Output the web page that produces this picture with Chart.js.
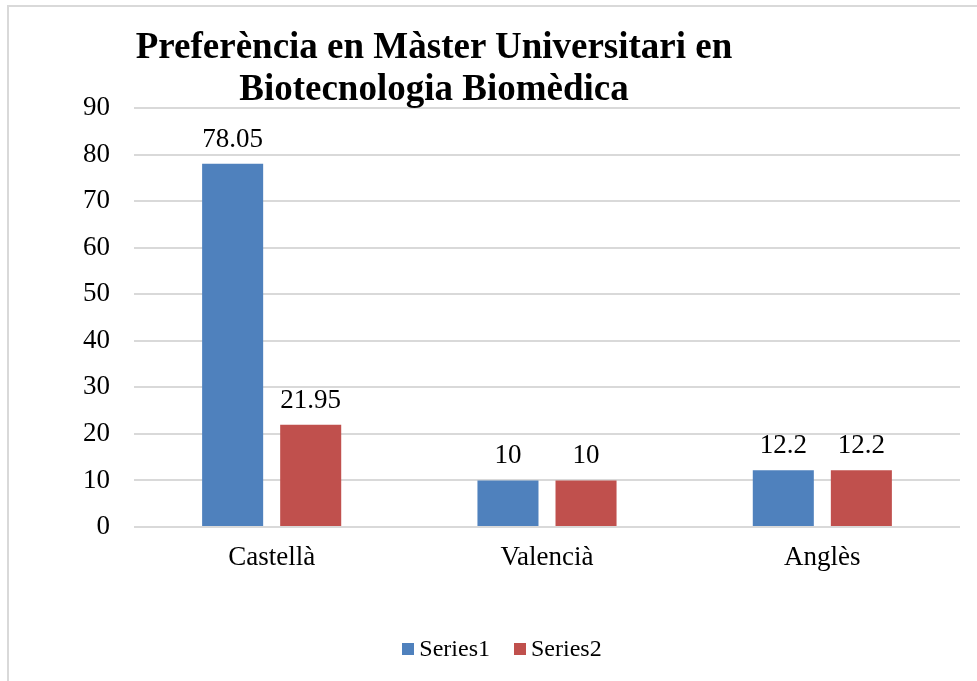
<!DOCTYPE html>
<html>
<head>
<meta charset="utf-8">
<script src="https://cdn.jsdelivr.net/npm/chart.js@4"></script>
<style>
  html, body { margin: 0; padding: 0; background: #fff; overflow: hidden; }
  #wrap { position: relative; width: 977px; height: 681px; }
  #frame { position: absolute; left: 7px; top: 5px; width: 1200px; height: 1200px;
           border-left: 2px solid #D9D9D9; border-top: 2px solid #D9D9D9; }
  #title { position: absolute; left: 0; top: 25px; width: 868px; text-align: center;
           font: bold 37px "Liberation Serif", "Times New Roman", serif; line-height: 42px; color: #000; }
  #legend { position: absolute; left: 0; top: 633px; width: 1004px; text-align: center;
            font: 24px "Liberation Serif", "Times New Roman", serif; line-height: 30px; color: #000; }
  #legend .item { display: inline-block; margin: 0 12px; }
  #legend .box { display: inline-block; width: 12px; height: 12px; margin-right: 5px; vertical-align: 1px; }
  canvas { position: absolute; left: 0; top: 0; }
</style>
</head>
<body>
<div id="wrap">
  <div id="frame"></div>
  <canvas id="c" width="977" height="681"></canvas>
  <div id="title">Preferència en Màster Universitari en<br>Biotecnologia Biomèdica</div>
  <div id="legend"></div>
</div>
<script>
const categories = ["Castellà", "Valencià", "Anglès"];
const series1 = [78.05, 10, 12.2];
const series2 = [21.95, 10, 12.2];
const seriesNames = ["Series1", "Series2"];
const seriesColors = ["#4F81BD", "#C0504D"];
const yTicks = { min: 0, max: 90, step: 10 };

const FONT = '"Liberation Serif", "Times New Roman", serif';

const valueLabels = {
  id: 'valueLabels',
  afterDatasetsDraw(chart) {
    const ctx = chart.ctx;
    ctx.save();
    ctx.font = '27px ' + FONT;
    ctx.fillStyle = '#000';
    ctx.textAlign = 'center';
    ctx.textBaseline = 'alphabetic';
    chart.data.datasets.forEach((ds, i) => {
      chart.getDatasetMeta(i).data.forEach((bar, j) => {
        ctx.fillText(String(ds.data[j]), bar.x, bar.y - 17);
      });
    });
    ctx.restore();
  }
};

const chart = new Chart(document.getElementById('c'), {
  type: 'bar',
  data: {
    labels: categories,
    datasets: [
      { label: seriesNames[0], data: series1, backgroundColor: seriesColors[0],
        categoryPercentage: 0.567, barPercentage: 0.782 },
      { label: seriesNames[1], data: series2, backgroundColor: seriesColors[1],
        categoryPercentage: 0.567, barPercentage: 0.782 }
    ]
  },
  options: {
    responsive: false,
    animation: false,
    layout: { padding: { left: 0, right: 17, top: 108, bottom: 55 } },
    plugins: {
      title: { display: false },
      tooltip: { enabled: false },
      legend: { display: false }
    },
    scales: {
      x: {
        grid: { display: false, drawTicks: false },
        border: { display: false },
        ticks: { font: { family: FONT, size: 27 }, color: '#000', padding: 15 },
        afterFit(scale) { scale.height = 99; }
      },
      y: {
        min: yTicks.min, max: yTicks.max,
        grid: { color: '#D9D9D9', lineWidth: 2, drawTicks: false },
        border: { display: false },
        ticks: { stepSize: yTicks.step, font: { family: FONT, size: 27 }, color: '#000', padding: 24 },
        afterFit(scale) { scale.width = 134; }
      }
    }
  },
  plugins: [valueLabels]
});

// HTML legend built from the chart's datasets
const legendEl = document.getElementById('legend');
chart.data.datasets.forEach(ds => {
  const item = document.createElement('span');
  item.className = 'item';
  const box = document.createElement('span');
  box.className = 'box';
  box.style.background = ds.backgroundColor;
  item.appendChild(box);
  item.appendChild(document.createTextNode(ds.label));
  legendEl.appendChild(item);
});
</script>
</body>
</html>
